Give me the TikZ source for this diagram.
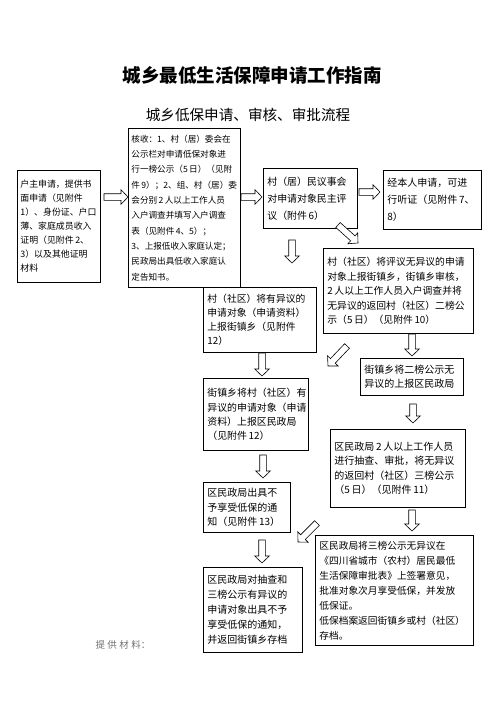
\documentclass[tikz,border=0pt]{standalone}
\usepackage{fontspec}
\setmainfont{Noto Sans CJK SC}
\usetikzlibrary{calc}
\tikzset{
  box/.style={draw, line width=0.8pt, anchor=north west, align=left, inner xsep=4pt, inner ysep=1pt},
  blk/.style={draw, line width=0.6pt, fill=white, line join=miter},
}
\newcommand\barrow[2]{%
  \coordinate (tmph) at ($(#2)!7pt!(#1)$);
  \draw[blk] ($(#1)!3.3pt!90:(#2)$) -- ($(tmph)!3.3pt!90:(#2)$) -- ($(tmph)!7.3pt!90:(#2)$) -- (#2)
    -- ($(tmph)!7.3pt!-90:(#2)$) -- ($(tmph)!3.3pt!-90:(#2)$) -- ($(#1)!3.3pt!-90:(#2)$) -- cycle;}
\begin{document}
\begin{tikzpicture}[x=1pt, y=-1pt]
\useasboundingbox (0,0) rectangle (496,702);
\fill[white] (0,0) rectangle (496,702);

\node[font=\fontsize{18.5}{20}\selectfont\bfseries] (title) at (252,75) {城乡最低生活保障申请工作指南};
\node[font=\fontsize{14.6}{16}\selectfont] (sub) at (248,115) {城乡低保申请、审核、审批流程};

\node[box, minimum width=83pt, minimum height=112pt, text width=77pt, inner xsep=3pt, font=\fontsize{8.9}{14}\selectfont] (b1) at (17,170)
 {户主申请，提供书\\面申请（见附件\\1）、身份证、户口\\薄、家庭成员收入\\证明（见附件\,2、\\3）以及其他证明\\材料};

\node[box, minimum width=112pt, minimum height=159pt, text width=106pt, inner xsep=3pt, font=\fontsize{8.6}{15.3}\selectfont] (b2) at (128,128)
 {核收：1、村（居）委会在\\公示栏对申请低保对象进\\行一榜公示（5\,日）（见附\\件\,9）；2、组、村（居）委\\会分别\,2\,人以上工作人员\\入户调查并填写入户调查\\表（见附件\,4、5）；\\3、上报低收入家庭认定；\\民政局出具低收入家庭认\\定告知书。};

\node[box, minimum width=94pt, minimum height=60pt, text width=86pt, font=\fontsize{9.9}{17}\selectfont] (b3) at (263,168)
 {村（居）民议事会\\对申请对象民主评\\议（附件\,6）};

\node[box, minimum width=98pt, minimum height=59pt, text width=90pt, font=\fontsize{10}{17}\selectfont] (b4) at (383,170)
 {经本人申请，可进\\行听证（见附件\,7、\\8）};

\node[box, minimum width=113pt, minimum height=65pt, text width=105pt, font=\fontsize{9.8}{14.2}\selectfont] (b5) at (203,287)
 {村（社区）将有异议的\\申请对象（申请资料）\\上报街镇乡（见附件\\12）};

\node[box, minimum width=150pt, minimum height=85pt, text width=142pt, font=\fontsize{9.8}{14.6}\selectfont] (b6) at (323,248)
 {村（社区）将评议无异议的申请\\对象上报街镇乡，街镇乡审核，\\2\,人以上工作人员入户调查并将\\无异议的返回村（社区）二榜公\\示（5\,日）（见附件\,10）};

\node[box, minimum width=103pt, minimum height=37pt, text width=95pt, font=\fontsize{10}{14.3}\selectfont] (b7) at (360,358)
 {街镇乡将二榜公示无\\异议的上报区民政局};

\node[box, minimum width=105pt, minimum height=72pt, text width=97pt, font=\fontsize{9.9}{14.2}\selectfont] (b8) at (203,378)
 {街镇乡将村（社区）有\\异议的申请对象（申请\\资料）上报区民政局\\（见附件\,12）};

\node[box, minimum width=135pt, minimum height=78pt, text width=127pt, font=\fontsize{10}{14.5}\selectfont] (b9) at (330,429)
 {区民政局\,2\,人以上工作人员\\进行抽查、审批，将无异议\\的返回村（社区）三榜公示\\（5\,日）（见附件\,11）};

\node[box, minimum width=87pt, minimum height=50pt, text width=79pt, font=\fontsize{10}{14.5}\selectfont] (b10) at (203,482)
 {区民政局出具不\\予享受低保的通\\知（见附件\,13）};

\node[box, minimum width=158pt, minimum height=110pt, text width=150pt, font=\fontsize{9.7}{15}\selectfont] (b11) at (315,535)
 {区民政局将三榜公示无异议在\\《四川省城市（农村）居民最低\\生活保障审批表》上签署意见，\\批准对象次月享受低保，并发放\\低保证。\\低保档案返回街镇乡或村（社区）\\存档。};

\node[box, minimum width=99pt, minimum height=85pt, text width=91pt, font=\fontsize{10}{15}\selectfont] (b12) at (203,567)
 {区民政局对抽查和\\三榜公示有异议的\\申请对象出具不予\\享受低保的通知，\\并返回街镇乡存档};

\node[font=\fontsize{9.5}{11}\selectfont, text=black!55] (note) at (123,645) {提\hspace{2.5pt}供\hspace{2.5pt}材\hspace{2.5pt}料：};

% arrows
\coordinate (a1s) at (104,197);  \coordinate (a1e) at (128,197);
\coordinate (a2s) at (241,197);  \coordinate (a2e) at (262,197);
\coordinate (a3s) at (359,192);  \coordinate (a3e) at (380,192);
\coordinate (a4s) at (338,225);  \coordinate (a4e) at (358,243);
\coordinate (a5s) at (292,240);  \coordinate (a5e) at (292,263);
\coordinate (a6s) at (262,353);  \coordinate (a6e) at (262,376);
\coordinate (a7s) at (347,346);  \coordinate (a7e) at (328,366);
\coordinate (a8s) at (412,334);  \coordinate (a8e) at (412,356);
\coordinate (a9s) at (413,404);  \coordinate (a9e) at (413,423);
\coordinate (a10s) at (263,455); \coordinate (a10e) at (263,478);
\coordinate (a11s) at (317,523); \coordinate (a11e) at (298,542);
\coordinate (a12s) at (412,510); \coordinate (a12e) at (412,531);
\coordinate (a13s) at (262,540); \coordinate (a13e) at (262,563);
\barrow{a1s}{a1e}
\barrow{a2s}{a2e}
\barrow{a3s}{a3e}
\barrow{a4s}{a4e}
\barrow{a5s}{a5e}
\barrow{a6s}{a6e}
\barrow{a7s}{a7e}
\barrow{a8s}{a8e}
\barrow{a9s}{a9e}
\barrow{a10s}{a10e}
\barrow{a11s}{a11e}
\barrow{a12s}{a12e}
\barrow{a13s}{a13e}
\end{tikzpicture}
\end{document}
